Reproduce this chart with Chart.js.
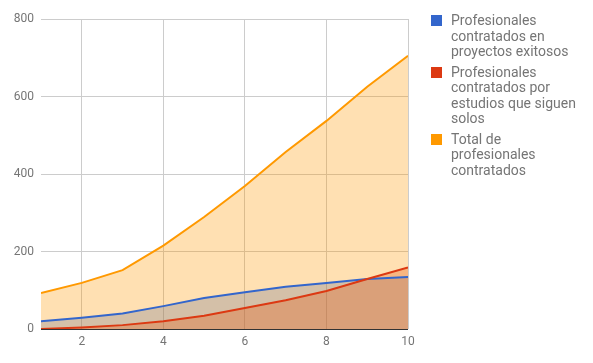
<!DOCTYPE html>
<html>
<head>
<meta charset="utf-8">
<script src="https://cdn.jsdelivr.net/npm/chart.js@4"></script>
<style>
body{margin:0;background:#fff;font-family:Roboto,sans-serif;}
#wrap{position:relative;width:593px;height:363px;}
#legend{position:absolute;left:431px;top:13px;width:150px;}
.item{display:flex;margin-bottom:5px;}
.box{width:11px;height:11px;margin-top:2px;margin-right:9px;flex:none;}
.txt{font-size:14px;line-height:15.5px;color:#757575;width:126px;}
</style>
</head>
<body>
<div id="wrap">
<canvas id="chart" width="593" height="363"></canvas>
<div id="legend"></div>
</div>
<script>
const xValues=[1,2,3,4,5,6,7,8,9,10];
const exitosos=[20,29,40,59,80,95,109,119,129,134];
const solos=[0,4,10,20,34,54,74,98,129,159];
const total=[93,119,152,215,289,369,457,537,625,705];
const labels=["Profesionales contratados en proyectos exitosos","Profesionales contratados por estudios que siguen solos","Total de profesionales contratados"];
const colors=["#3366cc","#dc3912","#ff9900"];
const fills=["rgba(51,102,204,0.3)","rgba(220,57,18,0.3)","rgba(255,153,0,0.3)"];
const yTicks=[0,200,400,600,800];
const xTicks=[2,4,6,8,10];

Chart.defaults.font.family="Roboto";
Chart.defaults.color="#757575";

const series=[exitosos,solos,total];

new Chart(document.getElementById("chart"),{
type:"line",
data:{
datasets:series.map((s,i)=>({
label:labels[i],
data:s.map((v,j)=>({x:xValues[j],y:v})),
borderColor:colors[i],
backgroundColor:fills[i],
borderWidth:2,
pointRadius:0,
tension:0,
fill:"origin",
// draw first series first, last series on top
order:series.length-i
}))
},
options:{
responsive:false,
animation:false,
layout:{padding:{top:19,right:185,left:0,bottom:0}},
plugins:{
legend:{display:false},
tooltip:{enabled:false},
filler:{drawTime:"beforeDatasetsDraw"}
},
scales:{
x:{
type:"linear",
min:1,max:10,
afterBuildTicks:a=>{a.ticks=xTicks.map(v=>({value:v}));},
afterFit:a=>{a.height=34;},
grid:{color:"#cccccc",drawTicks:false},
border:{display:false},
ticks:{font:{size:12},color:"#757575",padding:6,maxRotation:0}
},
y:{
min:0,max:800,
afterBuildTicks:a=>{a.ticks=yTicks.map(v=>({value:v}));},
afterFit:a=>{a.width=41;},
grid:{color:c=>c.tick&&c.tick.value===0?"#333333":"#cccccc",drawTicks:false},
border:{display:false},
ticks:{font:{size:12},color:"#757575",padding:7}
}
}
}
});

const legend=document.getElementById("legend");
labels.forEach((l,i)=>{
legend.innerHTML+=`<div class="item"><div class="box" style="background:${colors[i]}"></div><div class="txt">${l}</div></div>`;
});
</script>
</body>
</html>
